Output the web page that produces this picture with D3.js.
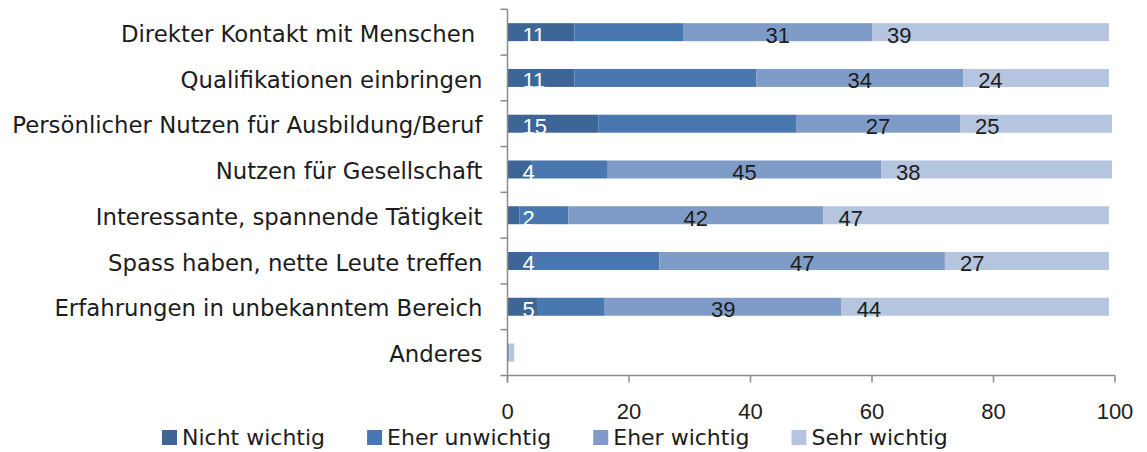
<!DOCTYPE html>
<html>
<head>
<meta charset="utf-8">
<script src="https://cdn.jsdelivr.net/npm/d3@7"></script>
<style>
    body { margin: 0; background: #fff; }
    svg text { fill: #1c1c1c; }
    .txt { font-family: "DejaVu Sans", sans-serif; }
    .num { font-family: "Liberation Sans", Arial, sans-serif; }
</style>
</head>
<body>
<div id="chart"></div>
<script>
const categories = [
    "Direkter Kontakt mit Menschen ",
    "Qualifikationen einbringen",
    "Persönlicher Nutzen für Ausbildung/Beruf",
    "Nutzen für Gesellschaft",
    "Interessante, spannende Tätigkeit",
    "Spass haben, nette Leute treffen",
    "Erfahrungen in unbekanntem Bereich",
    "Anderes"
];
const seriesNames = ["Nicht wichtig", "Eher unwichtig", "Eher wichtig", "Sehr wichtig"];
const nichtWichtig = [11, 11, 15, 4, 2, 4, 5, 0];
const eherUnwichtig = [18, 30, 32.5, 12.5, 8, 21, 11, 0];
const eherWichtig = [31, 34, 27, 45, 42, 47, 39, 0.3];
const sehrWichtig = [39, 24, 25, 38, 47, 27, 44, 0.8];
const xTicks = [0, 20, 40, 60, 80, 100];
const colors = ["#3d6696", "#4878af", "#7f9cc8", "#b5c4df"];

document.addEventListener("DOMContentLoaded", function () {
    renderChart();
});

function renderChart() {
    const width = 1147, height = 452;
    const margin = { top: 9.3, right: 32, bottom: 76.6, left: 507.5 };

    const svg = d3.select("#chart").append("svg")
        .attr("width", width)
        .attr("height", height);

    const x = d3.scaleLinear()
        .domain([0, 100])
        .range([margin.left, width - margin.right]);

    const y = d3.scaleBand()
        .domain(categories)
        .range([margin.top, height - margin.bottom])
        .paddingInner(0.607)
        .paddingOuter(0.3035);

    // build rows for stacking
    const rows = categories.map((c, i) => ({
        cat: c,
        "Nicht wichtig": nichtWichtig[i],
        "Eher unwichtig": eherUnwichtig[i],
        "Eher wichtig": eherWichtig[i],
        "Sehr wichtig": sehrWichtig[i]
    }));
    const stacked = d3.stack().keys(seriesNames)(rows);

    const groups = svg.selectAll(".series")
        .data(stacked)
        .enter().append("g")
        .attr("class", "series")
        .attr("fill", (d, i) => colors[i]);

    groups.selectAll("rect")
        .data(d => d)
        .enter().append("rect")
        .attr("x", d => x(d[0]))
        .attr("y", d => y(d.data.cat))
        .attr("width", d => x(d[1]) - x(d[0]))
        .attr("height", y.bandwidth());

    // data labels (no labels for "Eher unwichtig")
    stacked.forEach((s, si) => {
        if (si === 1) return;
        svg.append("g").selectAll("text")
            .data(s.filter(d => d[1] - d[0] >= 1.5))
            .enter().append("text")
            .attr("class", "num")
            .attr("x", d => si === 2 ? (x(d[0]) + x(d[1])) / 2 : x(d[0]) + 15)
            .attr("y", d => y(d.data.cat) + y.bandwidth() / 2)
            .attr("dy", "0.47em")
            .attr("text-anchor", si === 2 ? "middle" : "start")
            .style("font-size", "22px")
            .style("fill", si === 0 ? "#ffffff" : "#1c1c1c")
            .text(d => Math.round(d[1] - d[0]));
    });

    // y axis
    const axisColor = "#8c8c8c";
    const yTop = margin.top, yBottom = height - margin.bottom;
    svg.append("line")
        .attr("x1", x(0)).attr("x2", x(0))
        .attr("y1", yTop).attr("y2", yBottom + 7)
        .attr("stroke", axisColor).attr("stroke-width", 1.5);
    const step = y.step();
    svg.selectAll(".ytick")
        .data(d3.range(categories.length))
        .enter().append("line")
        .attr("x1", x(0) - 7).attr("x2", x(0))
        .attr("y1", i => yTop + i * step)
        .attr("y2", i => yTop + i * step)
        .attr("stroke", axisColor).attr("stroke-width", 1.5);

    svg.selectAll(".ylabel")
        .data(categories)
        .enter().append("text")
        .attr("class", "txt")
        .attr("x", x(0) - 25)
        .attr("y", d => y(d) + y.bandwidth() / 2)
        .attr("dy", "0.42em")
        .attr("text-anchor", "end")
        .style("font-size", "22.8px")
        .style("white-space", "pre")
        .text(d => d);

    // x axis
    svg.append("line")
        .attr("x1", x(0) - 7).attr("x2", x(100))
        .attr("y1", yBottom).attr("y2", yBottom)
        .attr("stroke", axisColor).attr("stroke-width", 1.5);
    svg.selectAll(".xtick")
        .data(xTicks)
        .enter().append("line")
        .attr("x1", d => x(d)).attr("x2", d => x(d))
        .attr("y1", yBottom).attr("y2", yBottom + 7)
        .attr("stroke", axisColor).attr("stroke-width", 1.5);
    svg.selectAll(".xlabel")
        .data(xTicks)
        .enter().append("text")
        .attr("class", "num")
        .attr("x", d => x(d))
        .attr("y", yBottom + 44)
        .attr("text-anchor", "middle")
        .style("font-size", "22px")
        .text(d => d);

    // legend
    const legend = svg.append("g");
    let lx = 162;
    seriesNames.forEach((name, i) => {
        legend.append("rect")
            .attr("x", lx).attr("y", 430)
            .attr("width", 15).attr("height", 15)
            .attr("fill", colors[i]);
        const t = legend.append("text")
            .attr("class", "txt")
            .attr("x", lx + 20)
            .attr("y", 445)
            .style("font-size", "22px")
            .text(name);
        lx += 20 + t.node().getComputedTextLength() + 42;
    });
}
</script>
</body>
</html>
